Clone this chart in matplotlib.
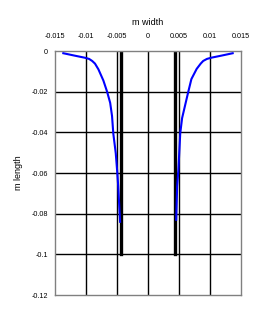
import matplotlib
matplotlib.use('Agg')
import matplotlib.pyplot as plt

plt.rcParams['font.family'] = ['Liberation Sans', 'DejaVu Sans']

# left tip profile (width, length)
left_x = [-0.01366, -0.0118, -0.0102, -0.0095, -0.0090, -0.00855, -0.0080, -0.0072,
          -0.0066, -0.0061, -0.0058, -0.0056, -0.0052, -0.00495, -0.0048, -0.0045]
left_y = [-0.0011, -0.0023, -0.0033, -0.0039, -0.0049, -0.0062, -0.0090, -0.0145,
          -0.0200, -0.0255, -0.0320, -0.0405, -0.0503, -0.0600, -0.0667, -0.0840]
# right tip profile
right_x = [0.01366, 0.0118, 0.0102, 0.0095, 0.0089, 0.0085, 0.00785, 0.0070,
           0.0065, 0.0060, 0.0055, 0.0052, 0.0049, 0.0047, 0.00455]
right_y = [-0.0011, -0.0023, -0.0033, -0.0039, -0.0049, -0.0062, -0.0088, -0.0138,
           -0.0200, -0.0265, -0.0330, -0.0405, -0.0585, -0.0667, -0.0830]
# walls
wall_x = [-0.0044, 0.0044]
wall_top = 0.0
wall_bottom = -0.1

xticks = [-0.015, -0.01, -0.005, 0, 0.005, 0.01, 0.015]
xlabels = ['-0.015', '-0.01', '-0.005', '0', '0.005', '0.01', '0.015']
yticks = [0, -0.02, -0.04, -0.06, -0.08, -0.1, -0.12]
ylabels = ['0', '-0.02', '-0.04', '-0.06', '-0.08', '-0.1', '-0.12']

fig = plt.figure(figsize=(2.66, 3.26), dpi=100)
ax = fig.add_axes([55 / 266, 31 / 326, 186 / 266, 244 / 326])

for x in xticks[1:-1]:
    ax.axvline(x, color='black', lw=1, zorder=1)
for y in yticks[1:-1]:
    ax.axhline(y, color='black', lw=1, zorder=1)

for x in wall_x:
    ax.plot([x, x], [wall_top, wall_bottom], color='black', lw=2.4, zorder=2)

ax.plot(left_x, left_y, color='#0000ff', lw=1.5, zorder=3)
ax.plot(right_x, right_y, color='#0000ff', lw=1.5, zorder=3)

ax.set_xlim(-0.015, 0.015)
ax.set_ylim(-0.12, 0)
ax.xaxis.tick_top()
ax.xaxis.set_label_position('top')
ax.set_xticks(xticks)
ax.set_xticklabels(xlabels, fontsize=5.2)
ax.set_yticks(yticks)
ax.set_yticklabels(ylabels, fontsize=5.2)
ax.tick_params(axis='x', length=0, pad=8)
ax.tick_params(axis='y', length=0, pad=5)
ax.set_xlabel('m width', fontsize=6.5, labelpad=6)
ax.set_ylabel('m length', fontsize=6.5, labelpad=6)

for s in ax.spines.values():
    s.set_color('#808080')
    s.set_linewidth(1)

fig.savefig('out.png', dpi=100, facecolor='white')
